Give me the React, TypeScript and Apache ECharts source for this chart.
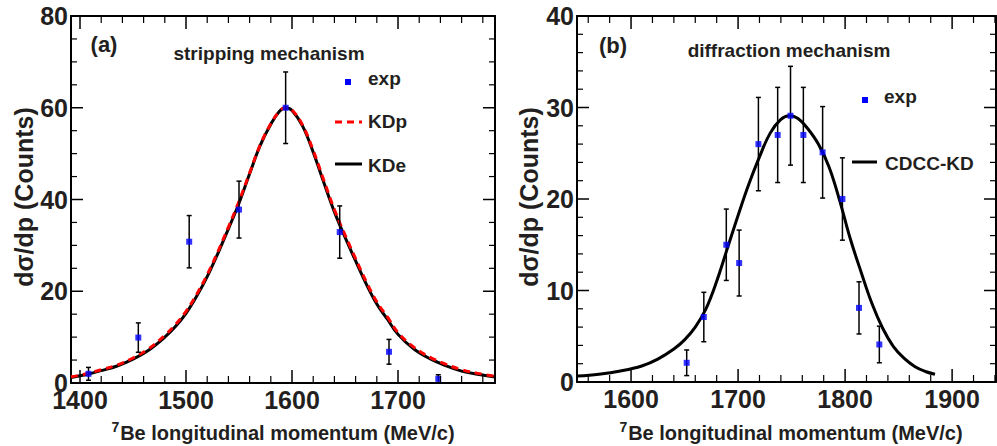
import React, { useEffect, useRef } from "react";
import * as echarts from "echarts";

// ---------- panel (a): stripping mechanism ----------
const stripExpX = [1408, 1455, 1503, 1550, 1594, 1645, 1691.5, 1738];
const stripExpY = [2.0, 9.9, 30.8, 37.8, 60.0, 32.9, 6.8, 0.9];
const stripExpErr = [1.4, 3.2, 5.7, 6.2, 7.8, 5.7, 2.7, 0.9];

const kdX = [1391.5, 1405, 1420, 1435, 1450, 1465, 1480, 1490, 1500, 1510, 1520, 1530, 1540, 1550, 1560, 1570, 1580, 1588, 1594, 1600, 1610, 1620, 1630, 1640, 1650, 1660, 1670, 1680, 1690, 1700, 1715, 1730, 1745, 1760, 1775, 1791.5];
const kdeY = [1.2, 1.8, 2.7, 3.7, 5.2, 7.2, 10.0, 12.3, 15.2, 18.9, 23.2, 28.2, 33.6, 39.2, 45.6, 51.8, 56.4, 59.2, 60.0, 59.4, 56.0, 50.3, 43.7, 37.3, 31.8, 26.6, 21.6, 17.2, 13.9, 10.6, 7.4, 5.3, 3.8, 2.6, 1.9, 1.3];
const kdpY = [1.35, 1.95, 2.9, 3.9, 5.45, 7.5, 10.4, 12.7, 15.6, 19.3, 23.6, 28.6, 34.0, 39.6, 45.8, 51.9, 56.5, 59.2, 60.0, 59.5, 56.2, 50.7, 44.2, 37.8, 32.3, 27.1, 22.1, 17.7, 14.4, 11.0, 7.8, 5.65, 4.1, 2.9, 2.1, 1.5];

const leftXMajor = [1400, 1500, 1600, 1700];
const leftXMinor = [1420, 1440, 1460, 1480, 1520, 1540, 1560, 1580, 1620, 1640, 1660, 1680, 1720, 1740, 1760, 1780];
const leftYMajor = [0, 20, 40, 60, 80];
const leftYMinor = [5, 10, 15, 25, 30, 35, 45, 50, 55, 65, 70, 75];

// ---------- panel (b): diffraction mechanism ----------
const diffExpX = [1652, 1668, 1689, 1701, 1719, 1737, 1749, 1761, 1779, 1797.5, 1813, 1832];
const diffExpY = [2.1, 7.1, 15.0, 13.0, 26.0, 27.0, 29.1, 27.0, 25.1, 20.0, 8.1, 4.1];
const diffExpErr = [1.4, 2.7, 3.9, 3.6, 5.1, 5.2, 5.4, 5.2, 5.0, 4.5, 2.85, 2.0];

const cdccX = [1550, 1570, 1590, 1610, 1625, 1640, 1650, 1660, 1670, 1680, 1690, 1700, 1710, 1720, 1730, 1740, 1748, 1756, 1765, 1775, 1785, 1795, 1805, 1815, 1825, 1835, 1845, 1855, 1865, 1875, 1884];
const cdccY = [0.65, 0.85, 1.2, 1.75, 2.5, 3.6, 4.6, 6.0, 8.0, 11.0, 14.6, 18.2, 21.6, 24.6, 27.2, 28.7, 29.1, 28.8, 27.7, 26.0, 23.5, 19.8, 15.6, 12.0, 8.6, 5.9, 3.9, 2.6, 1.7, 1.15, 0.85];

const rightXMajor = [1600, 1700, 1800, 1900];
const rightXMinor = [1560, 1580, 1620, 1640, 1660, 1680, 1720, 1740, 1760, 1780, 1820, 1840, 1860, 1880, 1920, 1940];
const rightYMajor = [0, 10, 20, 30, 40];
const rightYMinor = [2, 4, 6, 8, 12, 14, 16, 18, 22, 24, 26, 28, 32, 34, 36, 38];

const FONT = '"Liberation Sans", Arial, Helvetica, sans-serif';
const INK = "#231f20";

const pairs = (xs: number[], ys: number[]) => xs.map((x, i) => [x, ys[i]]);
const triples = (xs: number[], ys: number[], es: number[]) => xs.map((x, i) => [x, ys[i], es[i]]);

const mkX = (gridIndex: number, position: string, min: number, max: number, labels: number[] | null) => ({
  type: "value",
  gridIndex,
  position,
  min,
  max,
  axisLine: { show: true, onZero: false, lineStyle: { color: "#000", width: 2 } },
  axisTick: { show: false },
  minorTick: { show: false },
  axisLabel: labels
    ? {
        show: true,
        customValues: labels,
        formatter: (v: number) => String(v),
        margin: 8,
        lineHeight: 18,
        color: INK,
        fontSize: 25,
        fontWeight: "bold",
        fontFamily: FONT,
      }
    : { show: false },
  splitLine: { show: false },
});

const mkY = (gridIndex: number, position: string, max: number, interval: number, showLabel: boolean) => ({
  type: "value",
  gridIndex,
  position,
  min: 0,
  max,
  interval,
  axisLine: { show: true, onZero: false, lineStyle: { color: "#000", width: 2 } },
  axisTick: { show: false },
  minorTick: { show: false },
  axisLabel: showLabel
    ? {
        show: true,
        margin: 3,
        lineHeight: 18,
        color: INK,
        fontSize: 25,
        fontWeight: "bold",
        fontFamily: FONT,
        formatter: (v: number) => String(v),
      }
    : { show: false },
  splitLine: { show: false },
  minorSplitLine: { show: false },
});

const tickStyle = (len: number) => ({ stroke: "#000", lineWidth: len > 9 ? 1.5 : 1.2 });

// x ticks: data [value, 0, length]; drawn inward at bottom and top of the grid
const xTickRender = (params: any, api: any) => {
  const cs = params.coordSys;
  const px = api.coord([api.value(0), api.value(1)])[0];
  const len = api.value(2);
  const b = cs.y + cs.height;
  const t = cs.y;
  return {
    type: "group",
    children: [
      { type: "line", shape: { x1: px, y1: b, x2: px, y2: b - len }, style: tickStyle(len) },
      { type: "line", shape: { x1: px, y1: t, x2: px, y2: t + len }, style: tickStyle(len) },
    ],
  };
};

// y ticks: data [xMin, value, length]; drawn inward at left and right of the grid
const yTickRender = (params: any, api: any) => {
  const cs = params.coordSys;
  const py = api.coord([api.value(0), api.value(1)])[1];
  const len = api.value(2);
  const l = cs.x;
  const r = cs.x + cs.width;
  return {
    type: "group",
    children: [
      { type: "line", shape: { x1: l, y1: py, x2: l + len, y2: py }, style: tickStyle(len) },
      { type: "line", shape: { x1: r, y1: py, x2: r - len, y2: py }, style: tickStyle(len) },
    ],
  };
};

const xTickData = (major: number[], minor: number[]) => [
  ...major.map((v) => [v, 0, 13]),
  ...minor.map((v) => [v, 0, 7]),
];
const yTickData = (xmin: number, major: number[], minor: number[]) => [
  ...major.map((v) => [xmin, v, 12]),
  ...minor.map((v) => [xmin, v, 6]),
];

const errorBarRender = (params: any, api: any) => {
  const x = api.value(0);
  const y = api.value(1);
  const e = api.value(2);
  const top = api.coord([x, y + e]);
  const bot = api.coord([x, y - e]);
  const st = { stroke: "#000", lineWidth: 1.5 };
  return {
    type: "group",
    children: [
      { type: "line", shape: { x1: top[0], y1: top[1], x2: bot[0], y2: bot[1] }, style: st },
      { type: "line", shape: { x1: top[0] - 2.5, y1: top[1], x2: top[0] + 2.5, y2: top[1] }, style: st },
      { type: "line", shape: { x1: bot[0] - 2.5, y1: bot[1], x2: bot[0] + 2.5, y2: bot[1] }, style: st },
    ],
  };
};

const txt = (text: string, x: number, y: number, size: number, align = "left", extra: any = {}) => ({
  type: "text",
  x,
  y,
  ...extra,
  style: {
    text,
    fill: INK,
    fontSize: size,
    fontWeight: "bold",
    fontFamily: FONT,
    textAlign: align,
    textVerticalAlign: "middle",
  },
});

const xTitle = (cx: number) => ({
  type: "text",
  x: cx,
  y: 433,
  style: {
    text: "{sup|7}{main|Be longitudinal momentum (MeV/c)}",
    fill: INK,
    fontFamily: FONT,
    fontWeight: "bold",
    textAlign: "center",
    textVerticalAlign: "middle",
    rich: {
      sup: { fontSize: 14, fontWeight: "bold", fontFamily: FONT, fill: INK, verticalAlign: "top", lineHeight: 26, padding: [0, 1, 0, 0] },
      main: { fontSize: 20, fontWeight: "bold", fontFamily: FONT, fill: INK, lineHeight: 26 },
    },
  },
});

export default function App() {
  const ref = useRef<HTMLDivElement>(null);
  useEffect(() => {
    if (!ref.current) return;
    const chart = echarts.init(ref.current, null, { renderer: "svg" });
    const option: any = {
      animation: false,
      backgroundColor: "#ffffff",
      grid: [
        { left: 71, top: 16, width: 424, height: 367 },
        { left: 577, top: 16, width: 419, height: 366 },
      ],
      xAxis: [
        mkX(0, "bottom", 1391.5, 1791.5, leftXMajor),
        mkX(0, "top", 1391.5, 1791.5, null),
        mkX(1, "bottom", 1549.5, 1941, rightXMajor),
        mkX(1, "top", 1549.5, 1941, null),
      ],
      yAxis: [
        mkY(0, "left", 80, 20, true),
        mkY(0, "right", 80, 20, false),
        mkY(1, "left", 40, 10, true),
        mkY(1, "right", 40, 10, false),
      ],
      series: [
        // ticks (a)
        { type: "custom", xAxisIndex: 0, yAxisIndex: 0, data: xTickData(leftXMajor, leftXMinor), renderItem: xTickRender, silent: true, z: 6 },
        { type: "custom", xAxisIndex: 0, yAxisIndex: 0, data: yTickData(1391.5, leftYMajor, leftYMinor), renderItem: yTickRender, silent: true, z: 6 },
        // ticks (b)
        { type: "custom", xAxisIndex: 2, yAxisIndex: 2, data: xTickData(rightXMajor, rightXMinor), renderItem: xTickRender, silent: true, z: 6 },
        { type: "custom", xAxisIndex: 2, yAxisIndex: 2, data: yTickData(1549.5, rightYMajor, rightYMinor), renderItem: yTickRender, silent: true, z: 6 },
        {
          name: "KDe",
          type: "line",
          xAxisIndex: 0,
          yAxisIndex: 0,
          data: pairs(kdX, kdeY),
          smooth: 0.4,
          showSymbol: false,
          lineStyle: { color: "#000", width: 3 },
          z: 2,
        },
        {
          name: "KDp",
          type: "line",
          xAxisIndex: 0,
          yAxisIndex: 0,
          data: pairs(kdX, kdpY),
          smooth: 0.4,
          showSymbol: false,
          lineStyle: { color: "#ff0000", width: 3, type: [7, 5] },
          z: 3,
        },
        {
          name: "errA",
          type: "custom",
          xAxisIndex: 0,
          yAxisIndex: 0,
          data: triples(stripExpX, stripExpY, stripExpErr),
          renderItem: errorBarRender,
          clip: true,
          z: 4,
        },
        {
          name: "exp",
          type: "scatter",
          xAxisIndex: 0,
          yAxisIndex: 0,
          data: pairs(stripExpX, stripExpY),
          symbol: "rect",
          symbolSize: 6,
          itemStyle: { color: "#0000ff" },
          z: 5,
        },
        {
          name: "CDCC-KD",
          type: "line",
          xAxisIndex: 2,
          yAxisIndex: 2,
          data: pairs(cdccX, cdccY),
          smooth: 0.4,
          showSymbol: false,
          lineStyle: { color: "#000", width: 3 },
          z: 2,
        },
        {
          name: "errB",
          type: "custom",
          xAxisIndex: 2,
          yAxisIndex: 2,
          data: triples(diffExpX, diffExpY, diffExpErr),
          renderItem: errorBarRender,
          clip: true,
          z: 4,
        },
        {
          name: "expB",
          type: "scatter",
          xAxisIndex: 2,
          yAxisIndex: 2,
          data: pairs(diffExpX, diffExpY),
          symbol: "rect",
          symbolSize: 6,
          itemStyle: { color: "#0000ff" },
          z: 5,
        },
      ],
      graphic: [
        // axis titles
        txt("dσ/dp (Counts)", 24, 197, 25, "center", { rotation: Math.PI / 2 }),
        txt("dσ/dp (Counts)", 529, 197, 25, "center", { rotation: Math.PI / 2 }),
        xTitle(283),
        xTitle(791),
        // panel labels
        txt("(a)", 104, 44, 22, "center"),
        txt("stripping mechanism", 269, 53, 19, "center"),
        txt("(b)", 613, 45, 22, "center"),
        txt("diffraction mechanism", 789, 50, 19, "center"),
        // legend (a)
        { type: "rect", shape: { x: 345, y: 79, width: 6, height: 6 }, style: { fill: "#0000ff" } },
        txt("exp", 368, 78, 19),
        { type: "line", shape: { x1: 335, y1: 122, x2: 362, y2: 122 }, style: { stroke: "#ff0000", lineWidth: 3, lineDash: [7, 5] } },
        txt("KDp", 368, 121, 19),
        { type: "line", shape: { x1: 335, y1: 164, x2: 362, y2: 164 }, style: { stroke: "#000", lineWidth: 3 } },
        txt("KDe", 368, 165, 19),
        // legend (b)
        { type: "rect", shape: { x: 862, y: 97, width: 6, height: 6 }, style: { fill: "#0000ff" } },
        txt("exp", 884, 96, 19),
        { type: "line", shape: { x1: 852, y1: 162, x2: 877, y2: 162 }, style: { stroke: "#000", lineWidth: 3 } },
        txt("CDCC-KD", 885, 163, 19),
      ],
    };
    chart.setOption(option);
    return () => chart.dispose();
  }, []);
  return <div ref={ref} style={{ position: "absolute", left: 0, top: 0, width: 997, height: 446 }} />;
}
